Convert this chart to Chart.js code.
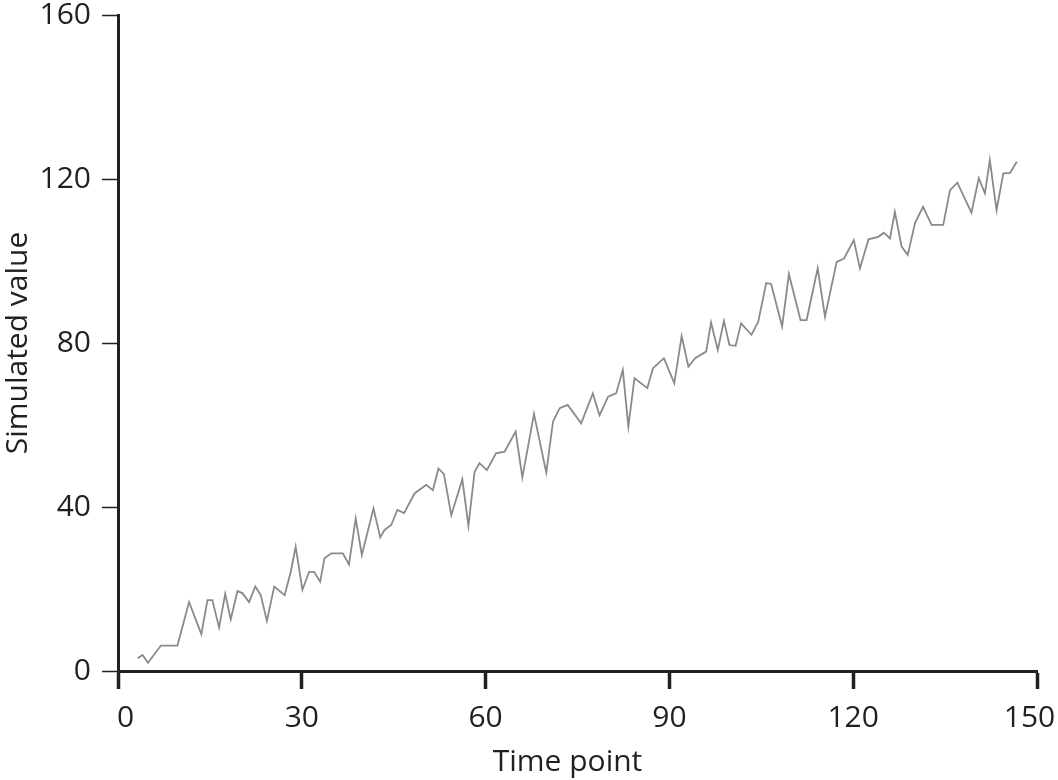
<!DOCTYPE html>
<html>
<head>
<meta charset="utf-8">
<script src="https://cdn.jsdelivr.net/npm/chart.js@4"></script>
<style>
  html, body { margin: 0; padding: 0; background: #fff; }
  #wrap { width: 1058px; height: 780px; position: relative; }
</style>
</head>
<body>
<div id="wrap"><canvas id="simChart"></canvas></div>
<script>
// Values
const timePoints = [
    3.2, 4.0, 4.9, 7.0, 9.7, 11.6, 13.6, 14.6, 15.4, 16.5, 17.5, 18.4, 19.5, 20.3, 21.4,
    22.4, 23.3, 24.3, 25.5, 27.2, 28.2, 29.0, 30.1, 31.2, 32.0, 33.0, 33.7, 34.8, 36.7, 37.7,
    38.8, 39.8, 41.7, 42.8, 43.5, 44.6, 45.6, 46.7, 48.4, 50.3, 51.4, 52.3, 53.2, 54.4, 56.2,
    57.2, 58.2, 59.0, 60.2, 61.7, 63.1, 64.9, 66.0, 67.9, 69.9, 71.0, 72.1, 73.4,
    75.6, 77.5, 78.6, 80.0, 81.3, 82.4, 83.3, 84.3, 86.4, 87.3, 89.1, 90.8, 92.0, 93.1, 94.2,
    96.0, 96.8, 97.9, 98.9, 99.8, 100.8, 101.7, 103.4, 104.5, 105.8, 106.6, 108.4, 109.5, 111.4, 112.4,
    114.2, 115.4, 117.3, 118.5, 120.1, 121.1, 122.5, 124.1, 125.0, 126.0, 126.8, 127.9, 128.9, 130.1,
    131.4, 132.8, 134.7, 135.8, 137.0, 139.3, 140.5, 141.5, 142.3, 143.4, 144.5, 145.6, 146.7
];
const simulatedValues = [
    3.1, 3.9, 2.0, 6.2, 6.2, 16.8, 9.0, 17.3, 17.3, 10.6, 18.8, 12.6, 19.5, 19.0, 16.8,
    20.6, 18.5, 12.2, 20.6, 18.5, 24.2, 30.3, 19.8, 24.2, 24.2, 21.8, 27.5, 28.7, 28.7, 26.0,
    37.2, 28.3, 39.7, 32.6, 34.4, 35.6, 39.3, 38.5, 43.3, 45.4, 44.1, 49.4, 48.0, 38.0, 46.8,
    35.4, 48.6, 50.7, 49.0, 53.1, 53.5, 58.4, 47.2, 62.7, 48.4, 60.8, 64.1, 64.9,
    60.4, 67.7, 62.4, 66.9, 67.7, 73.4, 59.6, 71.4, 69.0, 73.8, 76.3, 70.2, 81.7, 74.2, 76.3,
    77.9, 85.0, 78.3, 85.4, 79.5, 79.3, 84.8, 82.0, 85.2, 94.6, 94.4, 84.0, 96.8, 85.6, 85.6,
    98.2, 86.4, 99.8, 100.6, 105.1, 98.2, 105.3, 105.9, 106.9, 105.5, 112.0, 103.5, 101.5, 109.3,
    113.2, 108.8, 108.8, 117.3, 119.1, 111.8, 120.2, 116.5, 124.6, 112.4, 121.4, 121.5, 124.2
];
const xTicks = [0, 30, 60, 90, 120, 150];
const yTicks = [0, 40, 80, 120, 160];

const inkColor = '#231f20';
const fontFamily = '"Open Sans", "DejaVu Sans", sans-serif';

const points = timePoints.map((t, i) => ({ x: t, y: simulatedValues[i] }));

// nudge the end labels inwards so they stay on the canvas, like the original
function xTickLabel(value) {
    if (value === xTicks[0]) return '\u2002' + value;
    if (value === xTicks[xTicks.length - 1]) return value + '\u2002';
    return String(value);
}

new Chart(document.getElementById('simChart'), {
    type: 'line',
    data: {
        datasets: [{
            label: 'Simulated value',
            data: points,
            borderColor: '#8a8a8a',
            borderWidth: 1.8,
            pointRadius: 0,
            tension: 0,
            fill: false
        }]
    },
    options: {
        responsive: true,
        maintainAspectRatio: false,
        animation: false,
        layout: {
            padding: { top: 15, right: 21, bottom: 0, left: 0 }
        },
        plugins: {
            legend: { display: false },
            tooltip: { enabled: false }
        },
        scales: {
            x: {
                type: 'linear',
                min: 0,
                max: 150,
                afterBuildTicks: (scale) => {
                    scale.ticks = xTicks.map(v => ({ value: v }));
                },
                afterFit: (scale) => {
                    scale.height = 109;
                    scale.paddingLeft = 0;
                    scale.paddingRight = 0;
                },
                border: { display: true, color: inkColor, width: 3 },
                grid: {
                    drawOnChartArea: false,
                    drawTicks: true,
                    tickLength: 18,
                    tickWidth: 3.5,
                    tickColor: inkColor
                },
                ticks: {
                    color: inkColor,
                    padding: 11,
                    maxRotation: 0,
                    callback: xTickLabel,
                    font: { family: fontFamily, size: 30 }
                },
                title: {
                    display: true,
                    text: 'Time point\u2002\u2009',
                    color: inkColor,
                    padding: { top: 0, bottom: 0 },
                    font: { family: fontFamily, size: 30 }
                }
            },
            y: {
                min: 0,
                max: 160,
                afterBuildTicks: (scale) => {
                    scale.ticks = yTicks.map(v => ({ value: v }));
                },
                afterFit: (scale) => {
                    scale.width = 118;
                    scale.paddingTop = 0;
                    scale.paddingBottom = 0;
                },
                border: { display: true, color: inkColor, width: 3 },
                grid: {
                    drawOnChartArea: false,
                    drawTicks: true,
                    tickLength: 16,
                    tickWidth: 1.5,
                    tickColor: inkColor
                },
                ticks: {
                    color: inkColor,
                    padding: 11,
                    font: { family: fontFamily, size: 30 }
                },
                title: {
                    display: true,
                    text: 'Simulated value',
                    color: inkColor,
                    padding: { top: 0, bottom: 0 },
                    font: { family: fontFamily, size: 30 }
                }
            }
        }
    }
});
</script>
</body>
</html>
